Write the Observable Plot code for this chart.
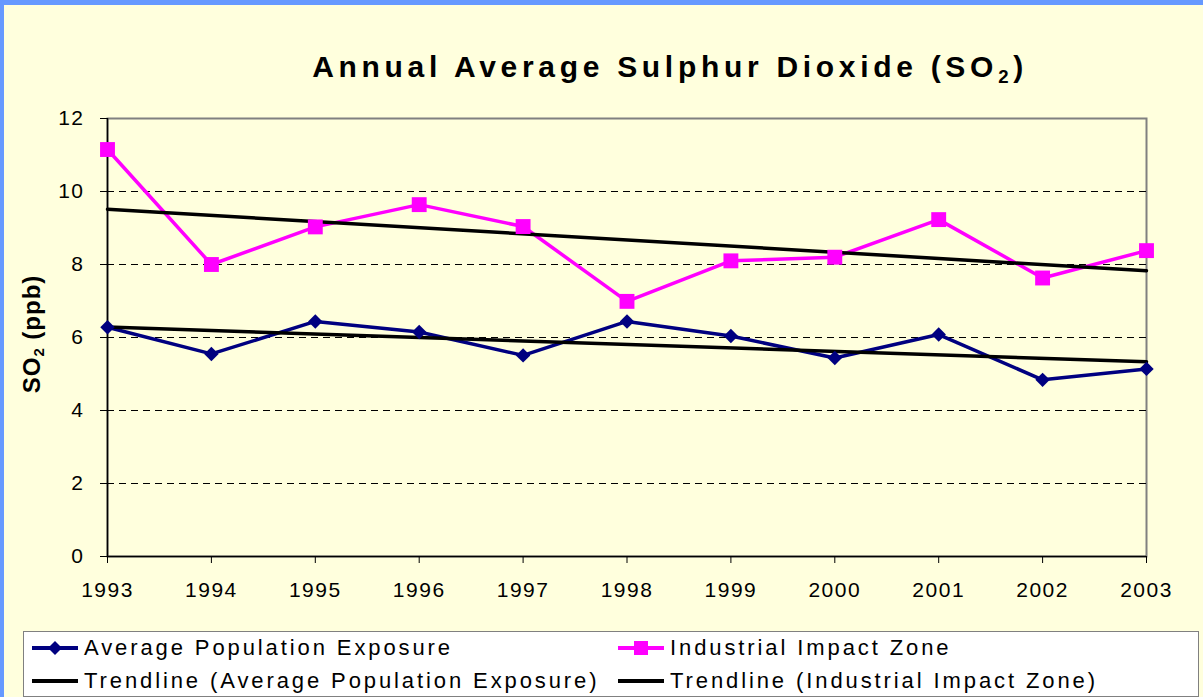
<!DOCTYPE html>
<html><head><meta charset="utf-8">
<script src="https://cdn.jsdelivr.net/npm/d3@7"></script>
<script src="https://cdn.jsdelivr.net/npm/@observablehq/plot@0.6"></script>
<style>
html,body{margin:0;padding:0;background:#6699FF;width:1203px;height:697px;overflow:hidden;}
#wrap{position:absolute;left:4px;top:5px;width:1199px;height:692px;background:#FFFFDD;font-family:"Liberation Sans",Arial,sans-serif;color:#000;}
#chart{position:absolute;left:0;top:0;}
#chart svg text{letter-spacing:1.5px;}
#title{position:absolute;left:666px;top:47px;transform:translateX(-50%);white-space:nowrap;font-weight:bold;font-size:30px;line-height:30px;letter-spacing:4.7px;}
#title sub,#ylab sub{font-size:0.62em;vertical-align:-0.3em;line-height:0;}
#ylab{position:absolute;left:28px;top:329px;transform:translate(-50%,-50%) rotate(-90deg);white-space:nowrap;font-weight:bold;font-size:24px;line-height:24px;letter-spacing:1px;}
#legend{position:absolute;left:19px;top:626px;width:1174px;height:64px;background:#FFFFFF;border:1px solid #808080;}
.item{position:absolute;height:30px;display:flex;align-items:center;font-size:22px;letter-spacing:2.9px;white-space:nowrap;}
.item svg{margin-right:6px;}
</style>
</head><body>
<div id="wrap">
  <div id="chart"></div>
  <div id="title">Annual Average Sulphur Dioxide (SO<sub>2</sub>)</div>
  <div id="ylab">SO<sub>2</sub> (ppb)</div>
  <div id="legend"></div>
</div>
<script>
const years = [1993, 1994, 1995, 1996, 1997, 1998, 1999, 2000, 2001, 2002, 2003];
const population = [6.28, 5.55, 6.44, 6.15, 5.51, 6.44, 6.04, 5.44, 6.08, 4.84, 5.14];
const industrial = [11.15, 8.0, 9.03, 9.64, 9.04, 6.99, 8.1, 8.2, 9.23, 7.63, 8.38];
const yTicks = [0, 2, 4, 6, 8, 10, 12];
const gridValues = [2, 4, 6, 8, 10];
const seriesNames = ["Average Population Exposure", "Industrial Impact Zone"];
const trendNames = ["Trendline (Average Population Exposure)", "Trendline (Industrial Impact Zone)"];

const popData = years.map((year, i) => ({year, value: population[i]}));
const indData = years.map((year, i) => ({year, value: industrial[i]}));

const chart = Plot.plot({
  width: 1199,
  height: 620,
  marginLeft: 103,
  marginRight: 57,
  marginTop: 113,
  marginBottom: 69,
  style: {background: "transparent", fontFamily: "'Liberation Sans', Arial, sans-serif", fontSize: "21px", color: "#000"},
  x: {type: "linear", domain: [1993, 2003]},
  y: {domain: [0, 12]},
  marks: [
    Plot.frame({stroke: "#808080", strokeWidth: 2}),
    Plot.ruleY(gridValues, {stroke: "#000", strokeWidth: 1, strokeDasharray: "7,5"}),
    Plot.ruleY([0], {stroke: "#000", strokeWidth: 1.5}),
    Plot.ruleX([1993], {stroke: "#000", strokeWidth: 1.5}),
    Plot.axisY({ticks: yTicks, tickSize: 7, tickPadding: 16, tickFormat: d => String(d), label: null, fontSize: 21, stroke: "#000"}),
    Plot.axisX({ticks: years, tickSize: 7, tickPadding: 19, tickFormat: d => String(d), label: null, fontSize: 21, stroke: "#000"}),
    Plot.lineY(indData, {x: "year", y: "value", stroke: "#FF00FF", strokeWidth: 3.5}),
    Plot.lineY(popData, {x: "year", y: "value", stroke: "#000080", strokeWidth: 3.5}),
    Plot.linearRegressionY(indData, {x: "year", y: "value", stroke: "#000", strokeWidth: 3.5, ci: 0}),
    Plot.linearRegressionY(popData, {x: "year", y: "value", stroke: "#000", strokeWidth: 3.5, ci: 0}),
    Plot.dot(indData, {x: "year", y: "value", symbol: "square", r: 8.4, fill: "#FF00FF", stroke: "none"}),
    Plot.dot(popData, {x: "year", y: "value", symbol: "diamond2", r: 6.5, fill: "#000080", stroke: "none"})
  ]
});
document.getElementById("chart").appendChild(chart);

// legend
const legend = document.getElementById("legend");
const items = [
  {name: seriesNames[0], color: "#000080", marker: "diamond", left: 8, top: 1},
  {name: seriesNames[1], color: "#FF00FF", marker: "square", left: 594, top: 1},
  {name: trendNames[0], color: "#000", marker: null, left: 8, top: 34},
  {name: trendNames[1], color: "#000", marker: null, left: 594, top: 34}
];
for (const it of items) {
  const div = document.createElement("div");
  div.className = "item";
  div.style.left = it.left + "px";
  div.style.top = it.top + "px";
  let m = "";
  if (it.marker === "diamond") m = `<path d="M23,1 L30,8 L23,15 L16,8 Z" fill="${it.color}"/>`;
  if (it.marker === "square") m = `<rect x="16" y="1" width="14" height="14" fill="${it.color}"/>`;
  div.innerHTML = `<svg width="46" height="16"><line x1="0" y1="8" x2="46" y2="8" stroke="${it.color}" stroke-width="4"/>${m}</svg><span>${it.name}</span>`;
  legend.appendChild(div);
}
</script>
</body></html>
